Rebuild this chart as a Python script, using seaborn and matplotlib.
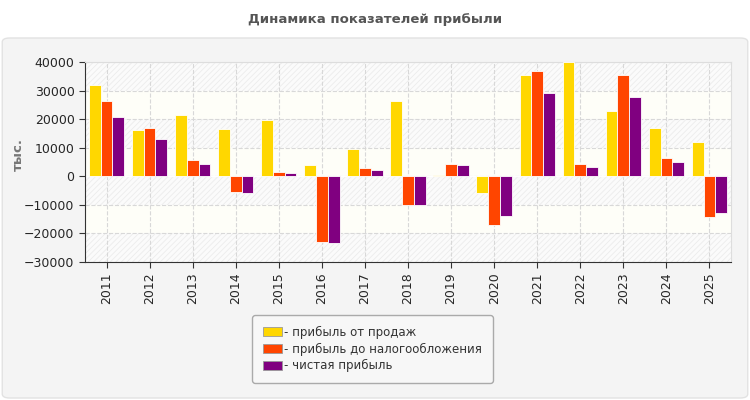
import pandas as pd
import seaborn as sns
import matplotlib.pyplot as plt
from matplotlib.patches import FancyBboxPatch

years = [str(y) for y in range(2011, 2026)]
sales_profit = [31900, 16200, 21500, 16600, 19800, 3900, 9500, 26500, 400, -6000,
                35600, 40000, 22900, 16900, 12000]
pretax_profit = [26500, 16900, 5700, -5600, 1400, -22900, 2800, -9900, 4200, -16900,
                 36700, 4200, 35300, 6400, -14100]
net_profit = [20800, 13100, 4200, -6000, 1100, -23300, 2100, -9900, 3900, -13800,
              29300, 3200, 27900, 4900, -12700]
series_names = ['- прибыль от продаж', '- прибыль до налогообложения', '- чистая прибыль']
colors = ['#FFD700', '#FF4500', '#800080']

df = pd.DataFrame({'year': years * 3,
                   'value': sales_profit + pretax_profit + net_profit,
                   'series': [series_names[0]] * 15 + [series_names[1]] * 15 + [series_names[2]] * 15})

sns.set_style('white')
plt.rcParams['font.family'] = ['DejaVu Sans']

fig = plt.figure(figsize=(7.5, 4), dpi=100, facecolor='white')
panel = FancyBboxPatch((0.003, 0.005), 0.994, 0.9, boxstyle='round,pad=0,rounding_size=0.01',
                       transform=fig.transFigure, facecolor='#f4f4f4', edgecolor='#e2e2e2',
                       linewidth=1, zorder=-10)
fig.patches.append(panel)
fig.text(0.5, 0.95, 'Динамика показателей прибыли', ha='center', va='center',
         fontsize=9.5, fontweight='bold', color='#555555')

ax = fig.add_axes([0.1133, 0.345, 0.8614, 0.5])
ax.set_facecolor('#fefef8')

# alternating hatched bands
plt.rcParams['hatch.color'] = '#ececec'
plt.rcParams['hatch.linewidth'] = 0.6
for lo in [30000, 10000, -10000, -30000]:
    ax.axhspan(lo, lo + 10000, facecolor='#fbfbfb', hatch='//////', edgecolor='#ececec',
               linewidth=0, zorder=0)

sns.barplot(data=df, x='year', y='value', hue='series', palette=colors, width=0.82,
            saturation=1, edgecolor='white', linewidth=0.6, ax=ax, zorder=3, legend=True)

ax.set_ylim(-30000, 40000)
ax.set_xlim(-0.5, 14.5)
ax.set_yticks(range(-30000, 40001, 10000))
ax.grid(True, color='#d8d8d8', linestyle='--', linewidth=0.8, zorder=1)
ax.set_axisbelow(True)
ax.axhline(0, color='white', linewidth=1, zorder=2)

ax.tick_params(axis='x', rotation=90, labelsize=9, length=4, color='#333333', direction='out')
ax.tick_params(axis='y', labelsize=9, length=4, color='#333333', direction='out')
ax.tick_params(bottom=True, left=True)
for s in ['top', 'right']:
    ax.spines[s].set_color('#dddddd')
for s in ['left', 'bottom']:
    ax.spines[s].set_color('#333333')
ax.set_xlabel('')
ax.set_ylabel('')
fig.text(0.025, 0.6125, 'тыс.', rotation=90, ha='center', va='center',
         fontsize=9.5, fontweight='bold', color='#777777')

handles, labels = ax.get_legend_handles_labels()
for h in handles:
    h.set_edgecolor('#999999')
leg = ax.legend(handles, labels, loc='center', bbox_to_anchor=(0.4967, 0.1275),
                bbox_transform=fig.transFigure, fontsize=8.5, frameon=True, fancybox=True,
                handlelength=1.6, handleheight=0.8, handletextpad=0.2, labelspacing=0.3,
                borderpad=0.9, framealpha=1)
leg.get_frame().set_facecolor('#f7f7f7')
leg.get_frame().set_edgecolor('#aaaaaa')
for t in leg.get_texts():
    t.set_color('#333333')

fig.savefig('out.png', dpi=100)
